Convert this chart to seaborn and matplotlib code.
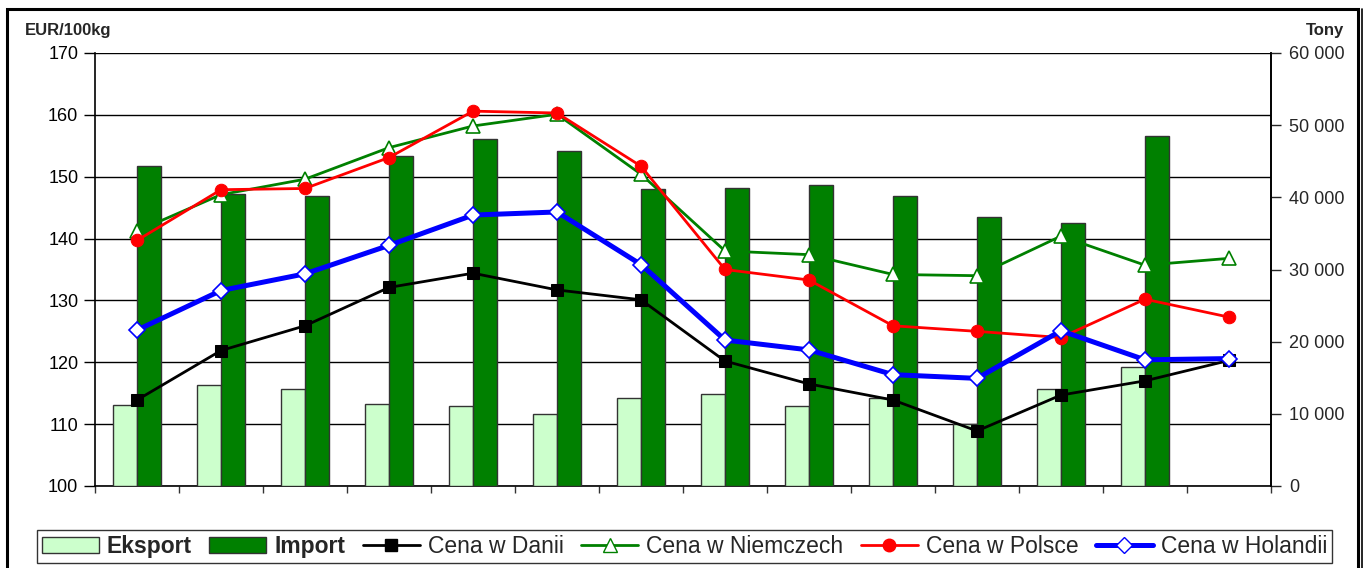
import numpy as np
import pandas as pd
import matplotlib
matplotlib.use("Agg")
import matplotlib.pyplot as plt
import seaborn as sns
from matplotlib.patches import Patch, Rectangle
from matplotlib.lines import Line2D
from matplotlib.ticker import FuncFormatter, FixedLocator

# -------------------------
# Data
# -------------------------
miesiace = ["III 09", "IV 09", "V 09", "VI 09", "VII 09", "VIII 09", "IX 09",
            "X 09", "XI 09", "XII 09", "I 10", "II 10", "III 10", "IV 10"]

# tony (prawa os)
eksport = [11250, 14030, 13380, 11430, 11070, 10000, 12180,
           12740, 11110, 12220, 8570, 13430, 16530, np.nan]
import_ = [44300, 40500, 40240, 45740, 48060, 46430, 41110,
           41300, 41670, 40240, 37320, 36430, 48470, np.nan]

# EUR/100kg (lewa os)
cena_dania = [113.9, 121.9, 125.9, 132.1, 134.4, 131.7, 130.1,
              120.2, 116.5, 113.9, 108.9, 114.7, 117.0, 120.3]
cena_niemcy = [141.2, 147.1, 149.6, 154.7, 158.2, 160.1, 150.4,
               138.0, 137.4, 134.2, 134.0, 140.4, 135.7, 136.8]
cena_polska = [139.7, 147.9, 148.1, 153.1, 160.6, 160.3, 151.7,
               135.0, 133.3, 125.9, 125.0, 124.0, 130.2, 127.3]
cena_holandia = [125.2, 131.6, 134.3, 138.9, 143.8, 144.3, 135.8,
                 123.6, 122.0, 118.0, 117.4, 125.1, 120.4, 120.6]

# -------------------------
# Styles
# -------------------------
sns.set_style("white")
plt.rcParams["font.family"] = ["Liberation Sans", "DejaVu Sans"]

C_EKSPORT = "#CCFFCC"
C_IMPORT = "#008000"
W, H = 1369, 568
TICK_FS = 13

df_bars = pd.DataFrame({
    "miesiac": miesiace * 2,
    "tony": eksport + import_,
    "typ": ["Eksport"] * len(miesiace) + ["Import"] * len(miesiace),
})
xpos = np.arange(len(miesiace))

fig = plt.figure(figsize=(W / 100, H / 100), dpi=100)
ax = fig.add_axes([95 / W, 1 - 486 / H, (1271 - 95) / W, (486 - 53) / H])
ax2 = ax.twinx()
ax3 = ax.twinx()

# bars on right axis
sns.barplot(data=df_bars, x="miesiac", y="tony", hue="typ", order=miesiace,
            hue_order=["Eksport", "Import"], palette=[C_EKSPORT, C_IMPORT],
            saturation=1, width=0.58, edgecolor="#333333", linewidth=1.0,
            errorbar=None, legend=False, ax=ax2)

# price lines
sns.lineplot(x=xpos, y=cena_dania, ax=ax3, color="black", lw=2.0, marker="s",
             markersize=8, markeredgecolor="black", sort=False, legend=False)
sns.lineplot(x=xpos, y=cena_niemcy, ax=ax3, color=C_IMPORT, lw=2.0, marker="^",
             markersize=10, markerfacecolor="white", markeredgecolor=C_IMPORT,
             markeredgewidth=1.2, sort=False, legend=False)
sns.lineplot(x=xpos, y=cena_polska, ax=ax3, color="red", lw=2.0, marker="o",
             markersize=9, markeredgecolor="red", sort=False, legend=False)
sns.lineplot(x=xpos, y=cena_holandia, ax=ax3, color="blue", lw=3.6, marker="D",
             markersize=8, markerfacecolor="white", markeredgecolor="blue",
             markeredgewidth=1.2, sort=False, legend=False)

# axes
for a in (ax, ax2, ax3):
    a.set_xlim(-0.5, len(miesiace) - 0.5)
    a.set_xlabel("")
    a.set_ylabel("")
ax.set_ylim(100, 170)
ax3.set_ylim(100, 170)
ax2.set_ylim(0, 60000)
ax.set_yticks(np.arange(100, 171, 10))
ax.grid(axis="y", color="black", lw=1.0)
ax.grid(axis="x", visible=False)
ax.tick_params(axis="y", direction="out", length=8, width=1, pad=4,
               labelsize=TICK_FS, left=True, colors="black")

ax.xaxis.set_major_locator(FixedLocator(xpos))
ax.set_xticklabels(miesiace)
ax.xaxis.set_minor_locator(FixedLocator(np.arange(-0.5, len(miesiace), 1)))
ax.tick_params(axis="x", which="major", length=0, pad=13, labelsize=TICK_FS)
ax.tick_params(axis="x", which="minor", direction="out", length=5, width=1,
               bottom=True, color="#333333")

ax2.set_yticks(np.arange(0, 60001, 10000))
ax2.yaxis.set_major_formatter(FuncFormatter(lambda v, p: f"{int(v):,}".replace(",", " ")))
ax2.tick_params(axis="y", direction="out", length=7, width=1, pad=6,
                labelsize=TICK_FS, right=True)
ax2.tick_params(axis="x", length=0)

ax3.axis("off")

for a in (ax, ax2):
    for s in a.spines.values():
        s.set_color("black")
        s.set_linewidth(1.2)
    a.spines["top"].set_visible(False)
ax2.spines["left"].set_visible(False)
ax2.spines["bottom"].set_visible(False)
ax2.set_xticks([])

fig.text(25 / W, 1 - 30 / H, "EUR/100kg", fontsize=12, fontweight="bold",
         va="center", ha="left")
fig.text(1344 / W, 1 - 30 / H, "Tony", fontsize=12, fontweight="bold",
         va="center", ha="right")

# legend
handles = [
    Patch(facecolor=C_EKSPORT, edgecolor="#333333", lw=1.0),
    Patch(facecolor=C_IMPORT, edgecolor="#333333", lw=1.0),
    Line2D([], [], color="black", lw=2.0, marker="s", markersize=8),
    Line2D([], [], color=C_IMPORT, lw=2.0, marker="^", markersize=10,
           markerfacecolor="white", markeredgecolor=C_IMPORT),
    Line2D([], [], color="red", lw=2.0, marker="o", markersize=9),
    Line2D([], [], color="blue", lw=3.6, marker="D", markersize=8,
           markerfacecolor="white", markeredgecolor="blue"),
]
labels = ["Eksport", "Import", "Cena w Danii", "Cena w Niemczech",
          "Cena w Polsce", "Cena w Holandii"]
leg = fig.legend(handles, labels, loc="center", bbox_to_anchor=(684.5 / W, 1 - 546.5 / H),
                 ncol=6, fontsize=16.5, frameon=True, fancybox=False,
                 edgecolor="black", handlelength=2.5, handletextpad=0.35,
                 columnspacing=0.75, borderpad=0.2, borderaxespad=0)
leg.get_frame().set_linewidth(1.0)
for t in leg.get_texts()[:2]:
    t.set_fontweight("bold")

# outer frame
fig.patches.append(Rectangle((7 / W, -0.02), (1358 - 7) / W, 1 - 9 / H + 0.02,
                             transform=fig.transFigure, fill=False,
                             edgecolor="black", lw=2.2))
fig.lines.append(Line2D([1362 / W, 1362 / W], [0, 1 - 9 / H],
                        transform=fig.transFigure, color="black", lw=1.2))

fig.savefig("out.png", dpi=100)
